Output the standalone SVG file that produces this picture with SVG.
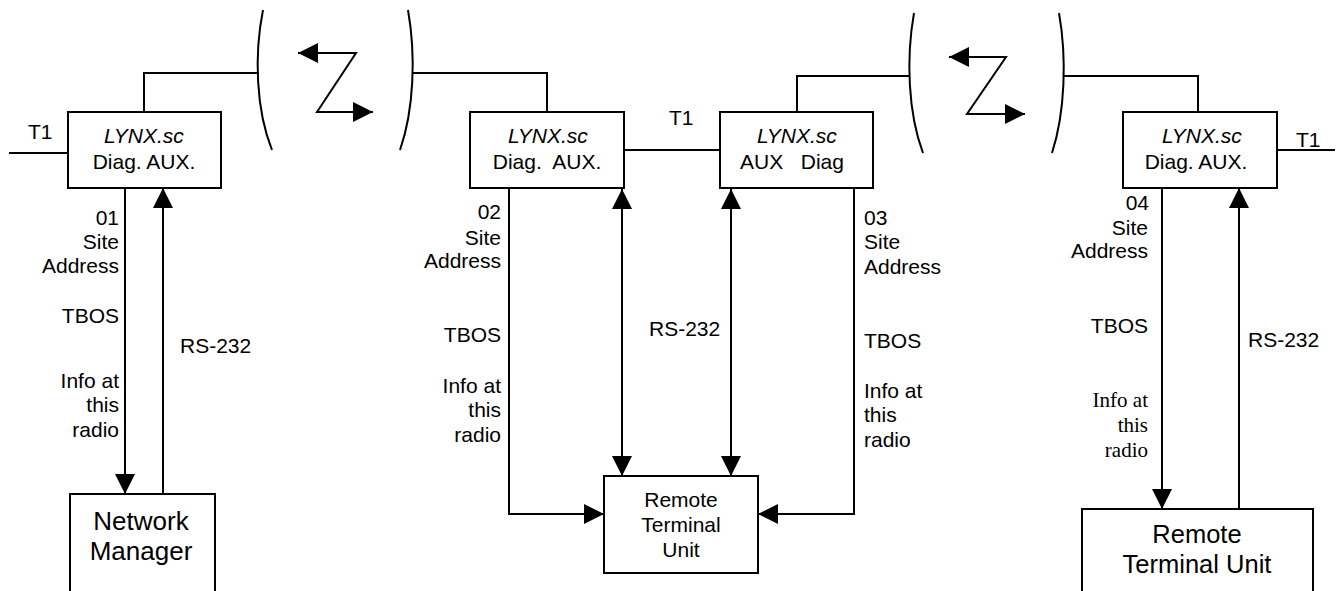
<svg xmlns="http://www.w3.org/2000/svg" width="1338" height="591" viewBox="0 0 1338 591">
<style>
text{font-family:"Liberation Sans",Arial,sans-serif;font-size:21px;fill:#000}
.it{font-style:italic}
.c{text-anchor:middle}
.e{text-anchor:end}
.serif{font-family:"Liberation Serif","Times New Roman",serif}
.box{fill:#fff;stroke:#000;stroke-width:2}
.ln{fill:none;stroke:#000;stroke-width:2}
.big{font-size:26px}
.mid{font-size:21px}
</style>
<defs>
<marker id="ah" markerUnits="userSpaceOnUse" markerWidth="20" markerHeight="20" refX="20" refY="10" orient="auto-start-reverse" viewBox="0 0 20 20">
<path d="M0,0 L20,10 L0,20 z" fill="#000"/>
</marker>
</defs>
<g id="connectors">
<path class="ln" d="M9 153 H68"/>
<path class="ln" d="M144 112 V73 H259"/>
<path class="ln" d="M413 73 H547 V112"/>
<path class="ln" d="M624 150 H720"/>
<path class="ln" d="M797 112 V76 H910"/>
<path class="ln" d="M1063 76 H1198 V112"/>
<path class="ln" d="M1277 150 H1335"/>
<path class="ln" d="M125 188 V494" marker-end="url(#ah)"/>
<path class="ln" d="M163 494 V188" marker-end="url(#ah)"/>
<path class="ln" d="M509 188 V514 H604" marker-end="url(#ah)"/>
<path class="ln" d="M622 189 V476" marker-start="url(#ah)" marker-end="url(#ah)"/>
<path class="ln" d="M731 189 V476" marker-start="url(#ah)" marker-end="url(#ah)"/>
<path class="ln" d="M854 188 V514 H758" marker-end="url(#ah)"/>
<path class="ln" d="M1162 188 V509" marker-end="url(#ah)"/>
<path class="ln" d="M1239 509 V188" marker-end="url(#ah)"/>
</g>
<g id="radio-link-1">
<path class="ln" d="M263 10 C254 55 256 110 272 150"/>
<path class="ln" d="M408 10 C416 55 414 110 400 150"/>
<path class="ln" d="M373 112 H317 L356 53 H298" marker-start="url(#ah)" marker-end="url(#ah)"/>
</g>
<g id="radio-link-2">
<path class="ln" d="M914 13 C906 58 908 113 923 153"/>
<path class="ln" d="M1059 13 C1067 58 1065 113 1052 153"/>
<path class="ln" d="M1025 114 H967 L1006 57 H949" marker-start="url(#ah)" marker-end="url(#ah)"/>
</g>
<g id="lynx-01">
<rect class="box" x="68" y="112" width="153" height="76"/>
<text class="c it" x="144" y="143">LYNX.sc</text>
<text class="c" x="144" y="169">Diag. AUX.</text>
<text x="28" y="139">T1</text>
</g>
<g id="lynx-02">
<rect class="box" x="470" y="112" width="154" height="76"/>
<text class="c it" x="548" y="143">LYNX.sc</text>
<text class="c" x="547" y="169" xml:space="preserve">Diag.  AUX.</text>
</g>
<g id="t1-mid"><text x="669" y="125">T1</text></g>
<g id="lynx-03">
<rect class="box" x="720" y="112" width="153" height="76"/>
<text class="c it" x="797" y="143">LYNX.sc</text>
<text class="c" x="792" y="169" xml:space="preserve">AUX   Diag</text>
</g>
<g id="lynx-04">
<rect class="box" x="1123" y="112" width="154" height="76"/>
<text class="c it" x="1202" y="143">LYNX.sc</text>
<text class="c" x="1196" y="169">Diag. AUX.</text>
<text x="1296" y="147">T1</text>
</g>
<g id="network-manager">
<rect class="box" x="70" y="494" width="145" height="100"/>
<text class="c big" x="141" y="530">Network</text>
<text class="c big" x="141" y="560">Manager</text>
</g>
<g id="rtu-1">
<rect class="box" x="604" y="476" width="154" height="97"/>
<text class="c mid" x="681" y="507">Remote</text>
<text class="c mid" x="681" y="532">Terminal</text>
<text class="c mid" x="681" y="557">Unit</text>
</g>
<g id="rtu-2">
<rect class="box" x="1082" y="509" width="231" height="90"/>
<text class="c" style="font-size:25.5px" x="1197" y="543">Remote</text>
<text class="c" style="font-size:25.5px" x="1197" y="573">Terminal Unit</text>
</g>
<g id="labels-01">
<text class="e" x="119" y="225">01</text>
<text class="e" x="119" y="249">Site</text>
<text class="e" x="119" y="273">Address</text>
<text class="e" x="119" y="323">TBOS</text>
<text class="e" x="119" y="388">Info at</text>
<text class="e" x="119" y="412">this</text>
<text class="e" x="119" y="437">radio</text>
<text x="180" y="353">RS-232</text>
</g>
<g id="labels-02">
<text class="e" x="501" y="219">02</text>
<text class="e" x="501" y="245">Site</text>
<text class="e" x="501" y="268">Address</text>
<text class="e" x="501" y="342">TBOS</text>
<text class="e" x="501" y="393">Info at</text>
<text class="e" x="501" y="417">this</text>
<text class="e" x="501" y="442">radio</text>
<text x="649" y="336">RS-232</text>
</g>
<g id="labels-03">
<text x="864" y="225">03</text>
<text x="864" y="249">Site</text>
<text x="864" y="274">Address</text>
<text x="864" y="348">TBOS</text>
<text x="864" y="398">Info at</text>
<text x="864" y="422">this</text>
<text x="864" y="447">radio</text>
</g>
<g id="labels-04">
<text class="e" x="1149" y="210">04</text>
<text class="e" x="1148" y="235">Site</text>
<text class="e" x="1148" y="258">Address</text>
<text class="e" x="1148" y="333">TBOS</text>
<text class="e serif" x="1148" y="407">Info at</text>
<text class="e serif" x="1148" y="432">this</text>
<text class="e serif" x="1148" y="457">radio</text>
<text x="1248" y="347">RS-232</text>
</g>
</svg>
